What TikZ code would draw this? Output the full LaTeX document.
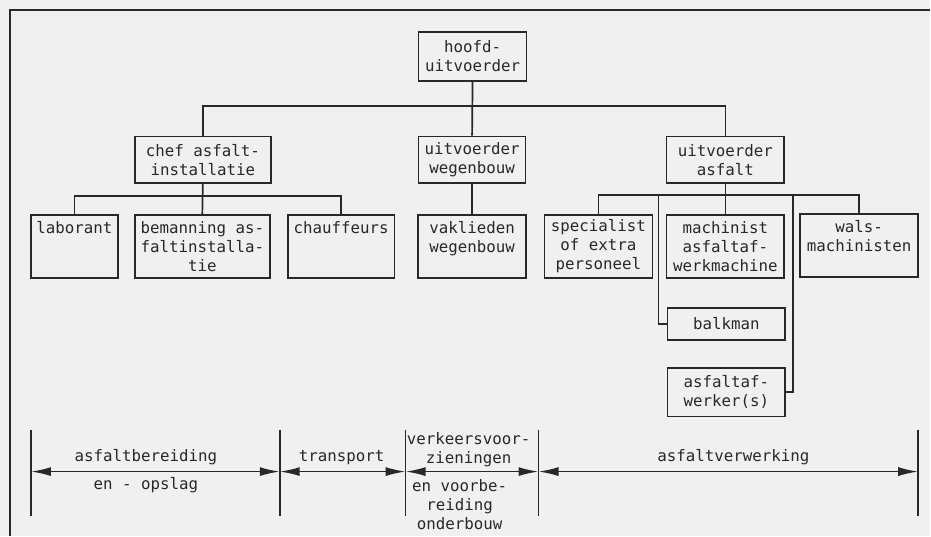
\documentclass[tikz,border=0pt]{standalone}
\usepackage{fontspec}
\newfontfamily\typefont{DejaVu Sans Mono}
\usetikzlibrary{arrows.meta}
\definecolor{paper}{RGB}{240,240,240}
\definecolor{ink}{RGB}{40,40,40}

\begin{document}
\begin{tikzpicture}[x = 0.5pt, y = -0.5pt, line width = 0.85pt, color = ink,
  every node/.style = {font = \typefont\fontsize{7.9}{9.5}\selectfont, align = center},
  box/.style = {draw, inner sep = 2pt},
  span/.style = {{Latex[length = 10pt, width = 4.5pt]}-{Latex[length = 10pt, width = 4.5pt]}}]
\fill[paper] (0, 0) rectangle (931, 536);
\draw (10, 536) -- (10, 10) -- (931, 10);

% top and second level
\node (hoofd) [box, minimum width = 54pt, minimum height = 24.5pt] at (473, 56.5) {hoofd-\\uitvoerder};
\node (chef) [box, minimum width = 68pt, minimum height = 23.5pt] at (203, 160) {chef asfalt-\\installatie};
\node (uitwegen) [box, minimum width = 53.5pt, minimum height = 23.5pt] at (472.5, 160) {uitvoerder\\wegenbouw};
\node (uitasfalt) [box, minimum width = 59pt, minimum height = 23.5pt] at (726, 160) {uitvoerder\\asfalt};

% third level
\node (laborant) [box, minimum width = 43.5pt, minimum height = 31.5pt] at (74.5, 246.5) {laborant\\~\\~};
\node (bemanning) [box, minimum width = 67.5pt, minimum height = 31.5pt] at (202.5, 246.5) {bemanning as-\\faltinstalla-\\tie};
\node (chauffeurs) [box, minimum width = 53.5pt, minimum height = 31.5pt] at (341.5, 246.5) {chauffeurs\\~\\~};
\node (vaklieden) [box, minimum width = 54pt, minimum height = 31.5pt] at (472.5, 246.5) {vaklieden\\wegenbouw\\~};
\node (specialist) [box, minimum width = 54pt, minimum height = 31.5pt] at (599, 246.5) {specialist\\of extra\\personeel};
\node (machinist) [box, minimum width = 59pt, minimum height = 31.5pt] at (726, 246.5) {machinist\\asfaltaf-\\werkmachine};
\node (wals) [box, minimum width = 59pt, minimum height = 31.5pt] at (860, 245.5) {wals-\\machinisten\\~};
\node (balkman) [box, minimum width = 59pt, minimum height = 16pt] at (727, 324) {balkman};
\node (afwerker) [box, minimum width = 59pt, minimum height = 24.5pt] at (727, 392.5) {asfaltaf-\\werker(s)};

\draw (chef.north) -- ++(0, -29.5) -| (uitasfalt.north);
\draw (hoofd.south) -- (uitwegen.north);
\draw (laborant.north) -- ++(0, -18) -| (chauffeurs.north);
\draw (chef.south) -- (bemanning.north);
\draw (uitwegen.south) -- (vaklieden.north);
\draw (specialist.north) -- ++(0, -19) -| (wals.north);
\draw (uitasfalt.south) -- (machinist.north);
\coordinate (tapB) at (659, 196);
\coordinate (tapA) at (794, 196);
\draw (tapB) |- (balkman.west);
\draw (tapA) |- (afwerker.east);

% phases
\foreach \n/\x in {b1/31, b2/280, b3/406, b4/539, b5/919} {
  \draw (\x, 430) -- (\x, 516);
  \coordinate (\n) at (\x, 472);
}
\foreach \a/\b in {b1/b2, b2/b3, b3/b4, b4/b5}
  \draw[span] (\a) -- (\b);
\node (prep) at (146, 458) {asfaltbereiding};
\node (store) at (146, 486) {en - opslag};
\node (transp) at (342, 458) {transport};
\node (traffic) at (469, 450.5) {verkeersvoor-\\zieningen};
\node (subbase) at (460, 505.5) {en voorbe-\\reiding\\onderbouw};
\node (paving) at (734, 458) {asfaltverwerking};
\end{tikzpicture}
\end{document}
